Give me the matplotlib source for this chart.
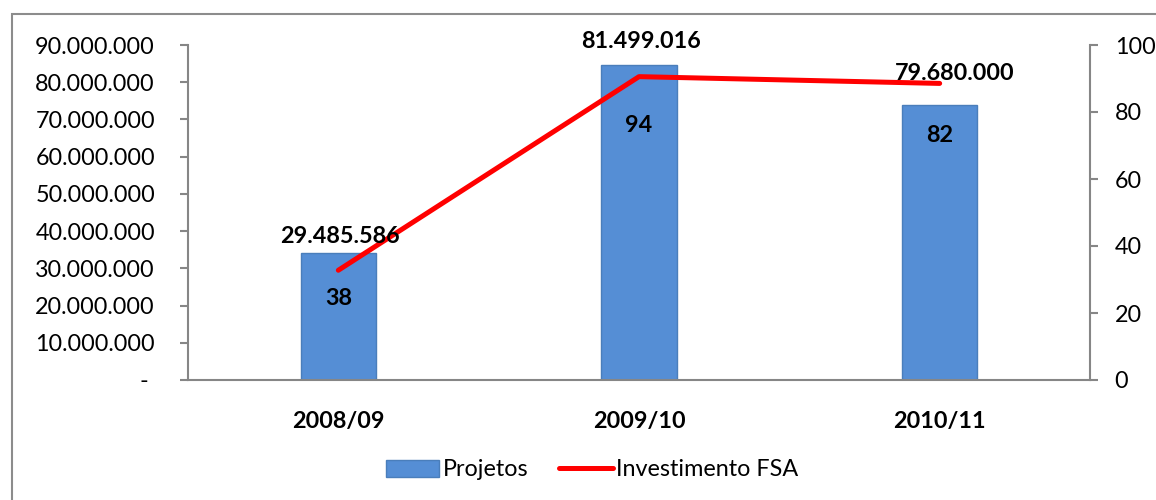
import matplotlib
matplotlib.use("Agg")
import matplotlib.pyplot as plt
from matplotlib.patches import Rectangle
from matplotlib.ticker import FuncFormatter

plt.rcParams['font.family'] = ['Lato', 'DejaVu Sans']

categories = ["2008/09", "2009/10", "2010/11"]
projetos = [38, 94, 82]
investimento = [29485586, 81499016, 79680000]
left_ticks = [0, 10e6, 20e6, 30e6, 40e6, 50e6, 60e6, 70e6, 80e6, 90e6]
right_ticks = [0, 20, 40, 60, 80, 100]

# label offsets in pixels (style)
bar_label_dy = [-46, -60, -30]
line_label_dxy = [(2, 34), (2, 35), (15, 10)]

W, H, DPI = 1156, 500, 100
fig = plt.figure(figsize=(W / DPI, H / DPI), dpi=DPI)
fig.patch.set_facecolor("white")

# outer chart border
fig.add_artist(Rectangle((12 / W, -0.1), 1.2, (1 - 14 / H) + 0.1,
                         transform=fig.transFigure, fill=False,
                         edgecolor="#8c8c8c", linewidth=1.5))

ax = fig.add_axes([188 / W, 1 - 380 / H, (1090 - 188) / W, (380 - 45) / H])
ax2 = ax.twinx()

grey = "#868686"
fs = 16.8
px = 72.0 / DPI

x = list(range(len(categories)))
bars = ax2.bar(x, projetos, width=0.25, color="#558ED5", edgecolor="#4A7EBB",
               linewidth=1.0, label="Projetos", zorder=2)
ax2.set_ylim(0, 100)
ax2.set_yticks(right_ticks)

line, = ax.plot(x, investimento, color="#FF0000", linewidth=3.6,
                solid_capstyle="round", label="Investimento FSA", zorder=3)
ax.set_ylim(0, 90e6)
ax.set_yticks(left_ticks)
ax.set_xlim(-0.5, 2.5)
ax.set_xticks(x)
ax.set_xticklabels(categories, fontsize=fs, fontweight="bold")

def fmt(v, pos):
    if v == 0:
        return "- "
    return f"{int(v):,}".replace(",", ".")
ax.yaxis.set_major_formatter(FuncFormatter(fmt))

ax.set_zorder(ax2.get_zorder() + 1)
ax.patch.set_visible(False)

for a in (ax, ax2):
    for s in a.spines.values():
        s.set_visible(False)
ax.spines["left"].set_visible(True)
ax.spines["bottom"].set_visible(True)
ax2.spines["right"].set_visible(True)
for s in (ax.spines["left"], ax.spines["bottom"], ax2.spines["right"]):
    s.set_color(grey)
    s.set_linewidth(1.5)

ax.tick_params(axis="y", direction="out", length=8 * px, width=1.5, color=grey,
               pad=18, labelsize=fs)
ax.tick_params(axis="x", length=0, pad=22)
ax2.tick_params(axis="y", direction="out", length=8 * px, width=1.5, color=grey,
                pad=12, labelsize=fs)

for xi, v, dy in zip(x, projetos, bar_label_dy):
    ax2.annotate(str(v), (xi, v), xytext=(0, dy * px), textcoords="offset points",
                 ha="center", va="center", fontsize=fs, fontweight="bold", zorder=5)

for xi, v, (dx, dy) in zip(x, investimento, line_label_dxy):
    ax.annotate(f"{v:,}".replace(",", "."), (xi, v), xytext=(dx * px, dy * px),
                textcoords="offset points", ha="center", va="center",
                fontsize=fs, fontweight="bold", zorder=6)

fig.legend([bars, line], ["Projetos", "Investimento FSA"], loc="center",
           bbox_to_anchor=(592 / W, 1 - 470 / H), ncol=2, frameon=False,
           fontsize=fs, handlelength=2.3, handleheight=0.73,
           handletextpad=0.15, columnspacing=1.3)

fig.savefig("out.png", dpi=DPI)
